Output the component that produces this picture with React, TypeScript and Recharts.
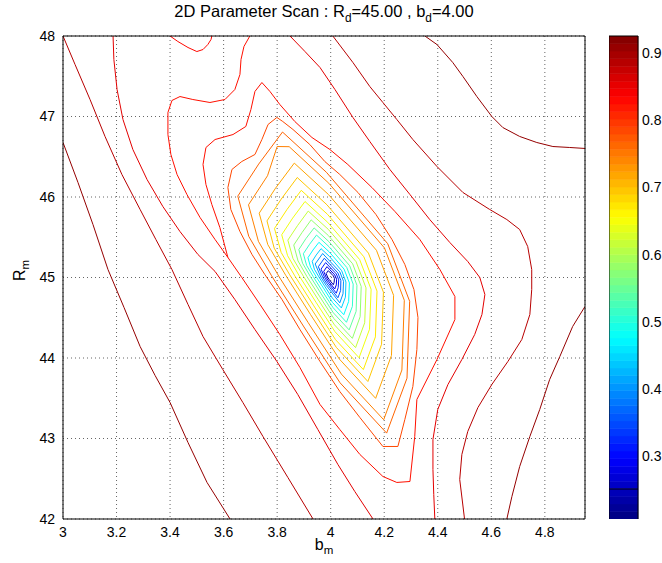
import React from "react";
import { ComposedChart, Line, Bar, XAxis, YAxis, CartesianGrid } from "recharts";

type P = [number, number];

const B_TICKS = [3, 3.2, 3.4, 3.6, 3.8, 4, 4.2, 4.4, 4.6, 4.8];
const R_TICKS = [42, 43, 44, 45, 46, 47, 48];
const CB_TICKS = [0.3, 0.4, 0.5, 0.6, 0.7, 0.8, 0.9];
const B_DOMAIN: [number, number] = [3, 4.95];
const R_DOMAIN: [number, number] = [42, 48];
const CB_DOMAIN: [number, number] = [0.207, 0.925];

// ---- contour lines, points as [b_m, R_m] ----
const L1: P[] = [[3.0,46.677],[3.056,46.18],[3.112,45.658],[3.168,45.099],[3.228,44.627],[3.288,44.143],[3.344,43.783],[3.4,43.447],[3.467,42.95],[3.538,42.454],[3.624,42.0]];
const L2: P[] = [[3.0,48.0],[3.045,47.646],[3.101,47.211],[3.157,46.752],[3.22,46.28],[3.288,45.845],[3.347,45.472],[3.407,45.099],[3.467,44.665],[3.523,44.267],[3.597,43.857],[3.672,43.447],[3.747,43.025],[3.84,42.516],[3.934,42.0]];
const L3: P[] = [[3.187,48.0],[3.19,47.708],[3.202,47.335],[3.224,46.963],[3.261,46.59],[3.314,46.217],[3.373,45.882],[3.437,45.571],[3.504,45.286],[3.568,45.075],[3.642,44.727],[3.717,44.354],[3.799,43.957],[3.877,43.547],[3.952,43.112],[4.027,42.677],[4.09,42.342],[4.158,42.0]];
const R1: P[] = [[3.698,48.0],[3.676,47.87],[3.665,47.708],[3.661,47.522],[3.642,47.335],[3.605,47.211],[3.549,47.174],[3.485,47.211],[3.437,47.248],[3.407,47.199],[3.392,47.05],[3.392,46.776],[3.403,46.528],[3.426,46.28],[3.463,46.031],[3.512,45.745],[3.568,45.472],[3.616,45.249],[3.668,45.0],[3.736,44.665],[3.81,44.292],[3.885,43.882],[3.96,43.423],[4.034,43.112],[4.109,42.802],[4.195,42.528],[4.247,42.454],[4.296,42.466],[4.314,43.025],[4.322,43.485],[4.397,43.981],[4.464,44.478],[4.464,44.764],[4.408,45.099],[4.333,45.472],[4.24,45.82],[4.154,46.118],[4.064,46.404],[3.997,46.59],[3.93,46.739],[3.866,46.938],[3.81,47.149],[3.773,47.311],[3.743,47.422],[3.717,47.311],[3.702,47.087],[3.683,46.876],[3.635,46.776],[3.568,46.714],[3.534,46.615],[3.523,46.404],[3.534,46.155],[3.556,45.907],[3.586,45.621],[3.616,45.249]];
const U1: P[] = [[3.4,48.0],[3.429,47.932],[3.467,47.857],[3.5,47.807],[3.523,47.832],[3.541,47.894],[3.553,47.957],[3.556,48.0]];
const RT1: P[] = [[4.352,48.0],[4.397,47.894],[4.456,47.671],[4.494,47.497],[4.546,47.248],[4.602,47.0],[4.643,46.863],[4.706,46.752],[4.77,46.677],[4.83,46.627],[4.893,46.615],[4.95,46.603]];
const RB1: P[] = [[4.95,44.64],[4.904,44.392],[4.856,44.019],[4.818,43.733],[4.781,43.361],[4.744,43.025],[4.706,42.652],[4.677,42.28],[4.658,42.0]];
const RT2: P[] = [[4.008,48.0],[4.083,47.671],[4.146,47.373],[4.195,47.174],[4.247,46.963],[4.307,46.714],[4.397,46.379],[4.494,46.056],[4.594,45.845],[4.658,45.72],[4.706,45.596],[4.736,45.385],[4.751,45.099],[4.751,44.851],[4.744,44.54],[4.714,44.23],[4.662,43.957],[4.602,43.671],[4.55,43.385],[4.512,43.087],[4.49,42.802],[4.482,42.491],[4.5,42.0]];
const RT3: P[] = [[3.848,48.0],[3.904,47.807],[3.96,47.609],[4.016,47.335],[4.083,46.988],[4.146,46.69],[4.221,46.342],[4.296,46.031],[4.37,45.72],[4.445,45.435],[4.512,45.199],[4.557,45.0],[4.576,44.789],[4.565,44.54],[4.538,44.292],[4.49,43.981],[4.438,43.671],[4.4,43.361],[4.382,42.988],[4.382,42.615],[4.385,42.305],[4.389,42.0]];
const O1: P[] = [[3.799,46.988],[3.766,46.901],[3.743,46.714],[3.717,46.528],[3.668,46.441],[3.631,46.342],[3.616,46.118],[3.627,45.845],[3.661,45.571],[3.706,45.286],[3.754,45.037],[3.818,44.727],[3.885,44.354],[3.96,43.957],[4.034,43.584],[4.109,43.261],[4.195,42.901],[4.251,42.901],[4.277,43.236],[4.307,43.646],[4.322,44.106],[4.326,44.503],[4.311,44.851],[4.277,45.162],[4.229,45.472],[4.169,45.783],[4.102,46.056],[4.034,46.28],[3.978,46.441],[3.922,46.652],[3.859,46.839],[3.821,46.938],[3.799,46.988]];
const O1B: P[] = [[3.82,46.807],[3.984,46.307],[4.213,45.42],[4.295,44.704],[4.285,43.749],[4.209,43.067],[4.035,43.692],[3.898,44.397],[3.779,45.022],[3.694,45.511],[3.653,46.011],[3.731,46.409],[3.82,46.807]];
const O2: P[] = [[3.845,46.625],[3.993,46.171],[4.201,45.367],[4.275,44.717],[4.266,43.851],[4.198,43.233],[4.04,43.8],[3.916,44.439],[3.808,45.006],[3.73,45.449],[3.693,45.903],[3.764,46.264],[3.8,46.627],[3.845,46.625]];
const O3: P[] = [[3.864,46.421],[3.992,46.03],[4.171,45.338],[4.235,44.778],[4.227,44.032],[4.168,43.499],[4.032,43.988],[3.925,44.538],[3.832,45.027],[3.765,45.409],[3.733,45.799],[3.794,46.11],[3.864,46.421]];
const Y0: P[] = [[3.875,46.242],[3.986,45.903],[4.141,45.303],[4.197,44.817],[4.19,44.171],[4.139,43.708],[4.021,44.132],[3.928,44.61],[3.847,45.033],[3.789,45.364],[3.762,45.703],[3.815,45.973],[3.875,46.242]];
const Y1: P[] = [[3.89,46.083],[3.988,45.785],[4.124,45.257],[4.173,44.831],[4.167,44.262],[4.122,43.856],[4.018,44.228],[3.937,44.648],[3.866,45.02],[3.815,45.311],[3.79,45.609],[3.837,45.846],[3.89,46.083]];
const Y2: P[] = [[3.904,45.944],[3.989,45.685],[4.108,45.224],[4.151,44.853],[4.145,44.357],[4.106,44.003],[4.016,44.327],[3.945,44.693],[3.883,45.018],[3.839,45.271],[3.817,45.531],[3.858,45.738],[3.904,45.944]];
const Y3: P[] = [[3.916,45.825],[3.991,45.598],[4.095,45.196],[4.132,44.871],[4.127,44.438],[4.093,44.129],[4.014,44.412],[3.952,44.732],[3.898,45.016],[3.859,45.237],[3.84,45.464],[3.876,45.644],[3.916,45.825]];
const G1: P[] = [[3.927,45.716],[3.992,45.519],[4.082,45.17],[4.114,44.888],[4.11,44.513],[4.081,44.244],[4.012,44.49],[3.958,44.768],[3.911,45.013],[3.878,45.206],[3.862,45.403],[3.893,45.559],[3.927,45.716]];
const G2: P[] = [[3.938,45.616],[3.993,45.447],[4.071,45.146],[4.098,44.904],[4.095,44.58],[4.069,44.349],[4.01,44.561],[3.964,44.8],[3.924,45.012],[3.895,45.177],[3.881,45.347],[3.907,45.481],[3.938,45.616]];
const C1B: P[] = [[3.947,45.527],[3.994,45.382],[4.06,45.125],[4.084,44.918],[4.081,44.641],[4.059,44.444],[4.009,44.625],[3.969,44.829],[3.935,45.01],[3.91,45.151],[3.898,45.296],[3.921,45.412],[3.947,45.527]];
const C1: P[] = [[3.956,45.437],[3.995,45.317],[4.05,45.104],[4.07,44.932],[4.067,44.702],[4.049,44.538],[4.007,44.689],[3.975,44.858],[3.946,45.008],[3.925,45.126],[3.915,45.246],[3.934,45.342],[3.956,45.437]];
const C2: P[] = [[3.964,45.358],[3.996,45.259],[4.041,45.085],[4.057,44.944],[4.055,44.756],[4.04,44.622],[4.006,44.745],[3.979,44.884],[3.956,45.007],[3.939,45.103],[3.931,45.201],[3.946,45.28],[3.964,45.358]];
const B0: P[] = [[3.97,45.298],[4.034,45.071],[4.048,44.953],[4.046,44.797],[4.034,44.685],[3.983,44.903],[3.963,45.006],[3.942,45.168],[3.97,45.298]];
const B1: P[] = [[3.976,45.239],[4.027,45.057],[4.038,44.963],[4.037,44.838],[4.027,44.748],[3.986,44.922],[3.97,45.004],[3.954,45.134],[3.976,45.239]];
const B2: P[] = [[3.981,45.185],[4.021,45.044],[4.03,44.971],[4.028,44.874],[4.021,44.805],[3.989,44.94],[3.977,45.003],[3.964,45.104],[3.981,45.185]];
const B3: P[] = [[3.986,45.135],[4.015,45.032],[4.022,44.979],[4.021,44.908],[4.015,44.857],[3.992,44.956],[3.983,45.003],[3.974,45.076],[3.986,45.135]];
const B4: P[] = [[3.991,45.085],[4.01,45.02],[4.014,44.987],[4.013,44.942],[4.01,44.91],[3.995,44.972],[3.989,45.002],[3.983,45.048],[3.991,45.085]];

const CONTOURS: { level: number; pts: P[] }[] = [
  { level: 0.91, pts: L1 }, { level: 0.91, pts: RT1 }, { level: 0.91, pts: RB1 },
  { level: 0.885, pts: L2 }, { level: 0.885, pts: RT2 },
  { level: 0.855, pts: L3 }, { level: 0.855, pts: RT3 },
  { level: 0.83, pts: U1 }, { level: 0.825, pts: R1 },
  { level: 0.785, pts: O1 }, { level: 0.765, pts: O1B }, { level: 0.745, pts: O2 },
  { level: 0.72, pts: O3 }, { level: 0.695, pts: Y0 }, { level: 0.67, pts: Y1 },
  { level: 0.645, pts: Y2 }, { level: 0.615, pts: Y3 }, { level: 0.58, pts: G1 },
  { level: 0.545, pts: G2 }, { level: 0.51, pts: C1B }, { level: 0.475, pts: C1 },
  { level: 0.44, pts: C2 }, { level: 0.4, pts: B0 }, { level: 0.36, pts: B1 },
  { level: 0.32, pts: B2 }, { level: 0.28, pts: B3 }, { level: 0.24, pts: B4 },
];

function jet(t: number): string {
  const c = (v: number) => Math.round(255 * Math.max(0, Math.min(1, v)));
  return `rgb(${c(1.5 - Math.abs(4 * t - 3))},${c(1.5 - Math.abs(4 * t - 2))},${c(1.5 - Math.abs(4 * t - 1))})`;
}
const levelColor = (v: number) => jet((v - CB_DOMAIN[0]) / (CB_DOMAIN[1] - CB_DOMAIN[0]));

// colour bar: 64 equal bands of the jet colormap stacked on top of the lower limit
const N_BANDS = 64;
const BAND_STEP = (CB_DOMAIN[1] - CB_DOMAIN[0]) / N_BANDS;
const BAND_KEYS = Array.from({ length: N_BANDS }, (_, i) => `k${i}`);
const CB_ROW: Record<string, number | string> = { name: "cb", base: CB_DOMAIN[0] };
BAND_KEYS.forEach((k) => { CB_ROW[k] = BAND_STEP; });
const CB_DATA = [CB_ROW];

const FONT = "'Liberation Sans', Arial, Helvetica, sans-serif";
const sub: React.CSSProperties = { fontSize: "0.72em", position: "relative", top: "0.38em" };

export default function App() {
  return (
    <div style={{ position: "absolute", left: 0, top: 0, width: 662, height: 563, background: "#fff", fontFamily: FONT, color: "#000" }}>
      <div style={{ position: "absolute", left: 0, top: 0 }}>
        <ComposedChart width={662} height={563} margin={{ top: 36, right: 77, bottom: 14, left: 23 }}>
          <CartesianGrid xAxisId="b" yAxisId="r" strokeDasharray="1 3" stroke="#666" />
          <XAxis xAxisId="b" dataKey="b" type="number" domain={B_DOMAIN} ticks={B_TICKS} interval={0} allowDataOverflow
            tickLine={false} axisLine={{ stroke: "#000" }} tick={{ fill: "#000", fontSize: 14, fontFamily: FONT }} height={30} />
          <XAxis xAxisId="bIn" orientation="bottom" mirror type="number" domain={B_DOMAIN} ticks={B_TICKS} interval={0} allowDataOverflow
            tick={false} tickSize={5} tickLine={{ stroke: "#000" }} axisLine={false} />
          <XAxis xAxisId="bTop" orientation="top" mirror type="number" domain={B_DOMAIN} ticks={B_TICKS} interval={0} allowDataOverflow
            tick={false} tickSize={5} tickLine={{ stroke: "#000" }} axisLine={{ stroke: "#000" }} />
          <YAxis yAxisId="r" type="number" domain={R_DOMAIN} ticks={R_TICKS} interval={0} allowDataOverflow
            tickLine={false} axisLine={{ stroke: "#000" }} tick={{ fill: "#000", fontSize: 14, fontFamily: FONT }} width={40} />
          <YAxis yAxisId="rIn" orientation="left" mirror type="number" domain={R_DOMAIN} ticks={R_TICKS} interval={0} allowDataOverflow
            tick={false} tickSize={5} tickLine={{ stroke: "#000" }} axisLine={false} />
          <YAxis yAxisId="rRight" orientation="right" mirror type="number" domain={R_DOMAIN} ticks={R_TICKS} interval={0} allowDataOverflow
            tick={false} tickSize={5} tickLine={{ stroke: "#000" }} axisLine={{ stroke: "#000" }} />
          {CONTOURS.map((c, i) => (
            <Line key={i} xAxisId="b" yAxisId="r" data={c.pts.map(([b, R]) => ({ b, R }))} dataKey="R" type="linear"
              dot={false} activeDot={false} stroke={levelColor(c.level)} strokeWidth={1} isAnimationActive={false} />
          ))}
        </ComposedChart>
      </div>
      <div style={{ position: "absolute", left: 609, top: 0 }}>
        <ComposedChart width={53} height={563} data={CB_DATA} margin={{ top: 36, right: 0, bottom: 44, left: 0 }}
          barCategoryGap={0} barGap={0}>
          <XAxis xAxisId="x" dataKey="name" type="category" mirror tick={false} tickLine={false} axisLine={false} />
          <YAxis yAxisId="c" orientation="right" type="number" domain={CB_DOMAIN} ticks={CB_TICKS} interval={0} allowDataOverflow
            tickLine={false} axisLine={false} tickSize={0} tickMargin={4}
            tick={{ fill: "#000", fontSize: 14, fontFamily: FONT, textAnchor: "start" }} width={24}
            tickFormatter={(v: number) => v.toFixed(1)} />
          <Bar xAxisId="x" yAxisId="c" dataKey="base" stackId="s" fill="transparent" isAnimationActive={false} />
          {BAND_KEYS.map((k, i) => {
            const col = jet((i + 0.5) / N_BANDS);
            return <Bar key={k} xAxisId="x" yAxisId="c" dataKey={k} stackId="s" fill={col} stroke={col} strokeWidth={0.6} isAnimationActive={false} />;
          })}
          <XAxis xAxisId="xTop" dataKey="name" type="category" orientation="top" mirror tick={false} tickLine={false} axisLine={{ stroke: "#000" }} />
          <XAxis xAxisId="xBot" dataKey="name" type="category" orientation="bottom" mirror tick={false} tickLine={false} axisLine={{ stroke: "#000" }} />
          <YAxis yAxisId="cL" orientation="left" mirror type="number" domain={CB_DOMAIN} ticks={CB_TICKS} interval={0} allowDataOverflow
            tick={false} tickSize={4} tickLine={{ stroke: "#000" }} axisLine={{ stroke: "#000" }} />
          <YAxis yAxisId="cR" orientation="right" mirror type="number" domain={CB_DOMAIN} ticks={CB_TICKS} interval={0} allowDataOverflow
            tick={false} tickSize={4} tickLine={{ stroke: "#000" }} axisLine={{ stroke: "#000" }} />
        </ComposedChart>
      </div>
      <div style={{ position: "absolute", left: 63, width: 522, top: 2, textAlign: "center", fontSize: 16.5, lineHeight: "19px", whiteSpace: "nowrap" }}>
        2D Parameter Scan : R<span style={sub}>d</span>=45.00 , b<span style={sub}>d</span>=4.00
      </div>
      <div style={{ position: "absolute", left: 63, width: 522, top: 536, textAlign: "center", fontSize: 16, lineHeight: "18px" }}>
        b<span style={sub}>m</span>
      </div>
      <div style={{ position: "absolute", left: 0, top: 261, width: 40, textAlign: "center", fontSize: 16, lineHeight: "18px", transform: "rotate(-90deg)" }}>
        R<span style={sub}>m</span>
      </div>
    </div>
  );
}
